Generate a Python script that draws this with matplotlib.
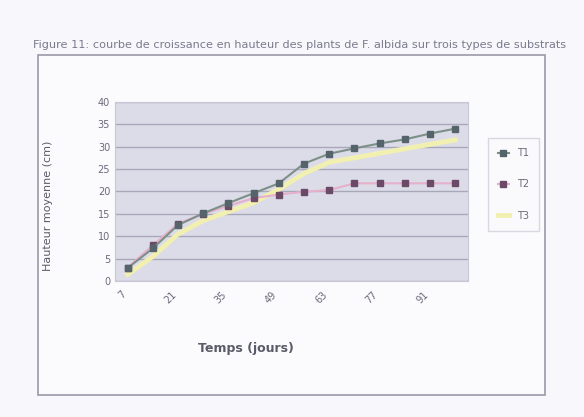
import matplotlib
matplotlib.use("Agg")
import matplotlib.pyplot as plt
import numpy as np
from matplotlib.patches import Rectangle
from matplotlib.lines import Line2D

# data (hauteur moyenne en cm)
jours = ["7", "14", "21", "28", "35", "42", "49", "56", "63", "70", "77", "84", "91", "98"]
t1 = [2.9, 7.3, 12.5, 15.1, 17.4, 19.6, 21.8, 26.2, 28.4, 29.6, 30.7, 31.6, 32.9, 34.0]
t2 = [3.0, 8.0, 12.8, 15.0, 16.8, 18.5, 19.3, 19.9, 20.3, 21.8, 21.8, 21.8, 21.8, 21.8]
t3 = [1.5, 5.5, 10.5, 13.5, 15.5, 17.5, 20.5, 24.0, 26.5, 27.5, 28.5, 29.5, 30.5, 31.5]
noms = ["T1", "T2", "T3"]

fig = plt.figure(figsize=(5.84, 4.17), dpi=100)
fig.patch.set_facecolor("#f7f7fc")

# cadre du graphique
cadre = Rectangle((0.065, 0.053), 0.868, 0.815, transform=fig.transFigure,
                  fill=True, facecolor="#fbfbfe", edgecolor="#9a9aa8", lw=1.2, zorder=-5)
fig.patches.append(cadre)

fig.text(0.057, 0.892, "Figure 11: courbe de croissance en hauteur des plants de F. albida sur trois types de substrats",
         fontsize=8.1, color="#7a7a8c", ha="left", va="center")

ax = fig.add_axes([0.197, 0.326, 0.604, 0.430])
ax.set_facecolor("#dcdce9")
x = np.arange(len(jours))

ax.plot(x, t3, color="#f2f0b0", lw=3.5, zorder=2)
ax.plot(x, t2, color="#e6b0cc", lw=1.5, zorder=3)
ax.plot(x, t2, ls="none", marker="s", ms=4, color="#6a4a66", zorder=4)
ax.plot(x, t1, color="#7d9088", lw=1.5, zorder=5)
ax.plot(x, t1, ls="none", marker="s", ms=4, color="#55636a", zorder=6)

ax.set_xlim(-0.5, len(jours) - 0.5)
ax.set_ylim(0, 40)
ax.set_yticks(np.arange(0, 41, 5))
ax.set_xticks(x[::2])
ax.set_xticklabels(jours[::2], rotation=45, ha="right", fontsize=7, color="#6a6a7a")
ax.tick_params(axis="y", labelsize=7, colors="#6a6a7a", length=0)
ax.tick_params(axis="x", length=0, pad=6)
ax.grid(axis="y", color="#a8a8b8", lw=1)
ax.set_axisbelow(True)
for s in ax.spines.values():
    s.set_color("#c8c8d4")

ax.set_ylabel("Hauteur moyenne (cm)", fontsize=8, color="#5a5a68")
ax.yaxis.set_label_coords(-0.175, 0.42)
ax.set_xlabel("Temps (jours)", fontsize=9, color="#5a5a68", fontweight="bold")
ax.xaxis.set_label_coords(0.37, -0.34)

# legende
handles = [Line2D([], [], color="#7d9088", marker="s", ms=4, mfc="#55636a", mec="#55636a"),
           Line2D([], [], color="#e6b0cc", marker="s", ms=4, mfc="#6a4a66", mec="#6a4a66"),
           Line2D([], [], color="#f2f0b0", lw=3.5)]
leg = fig.legend(handles, noms, loc="upper left", bbox_to_anchor=(0.827, 0.68), fontsize=7,
                 handlelength=1.2, labelspacing=2.2, frameon=True, fancybox=False,
                 borderpad=1.0)
leg.get_frame().set_edgecolor("#d0d0dc")
leg.get_frame().set_facecolor("#fafafd")
for t in leg.get_texts():
    t.set_color("#6a6a7a")

fig.savefig("out.png", dpi=100, facecolor=fig.get_facecolor())
